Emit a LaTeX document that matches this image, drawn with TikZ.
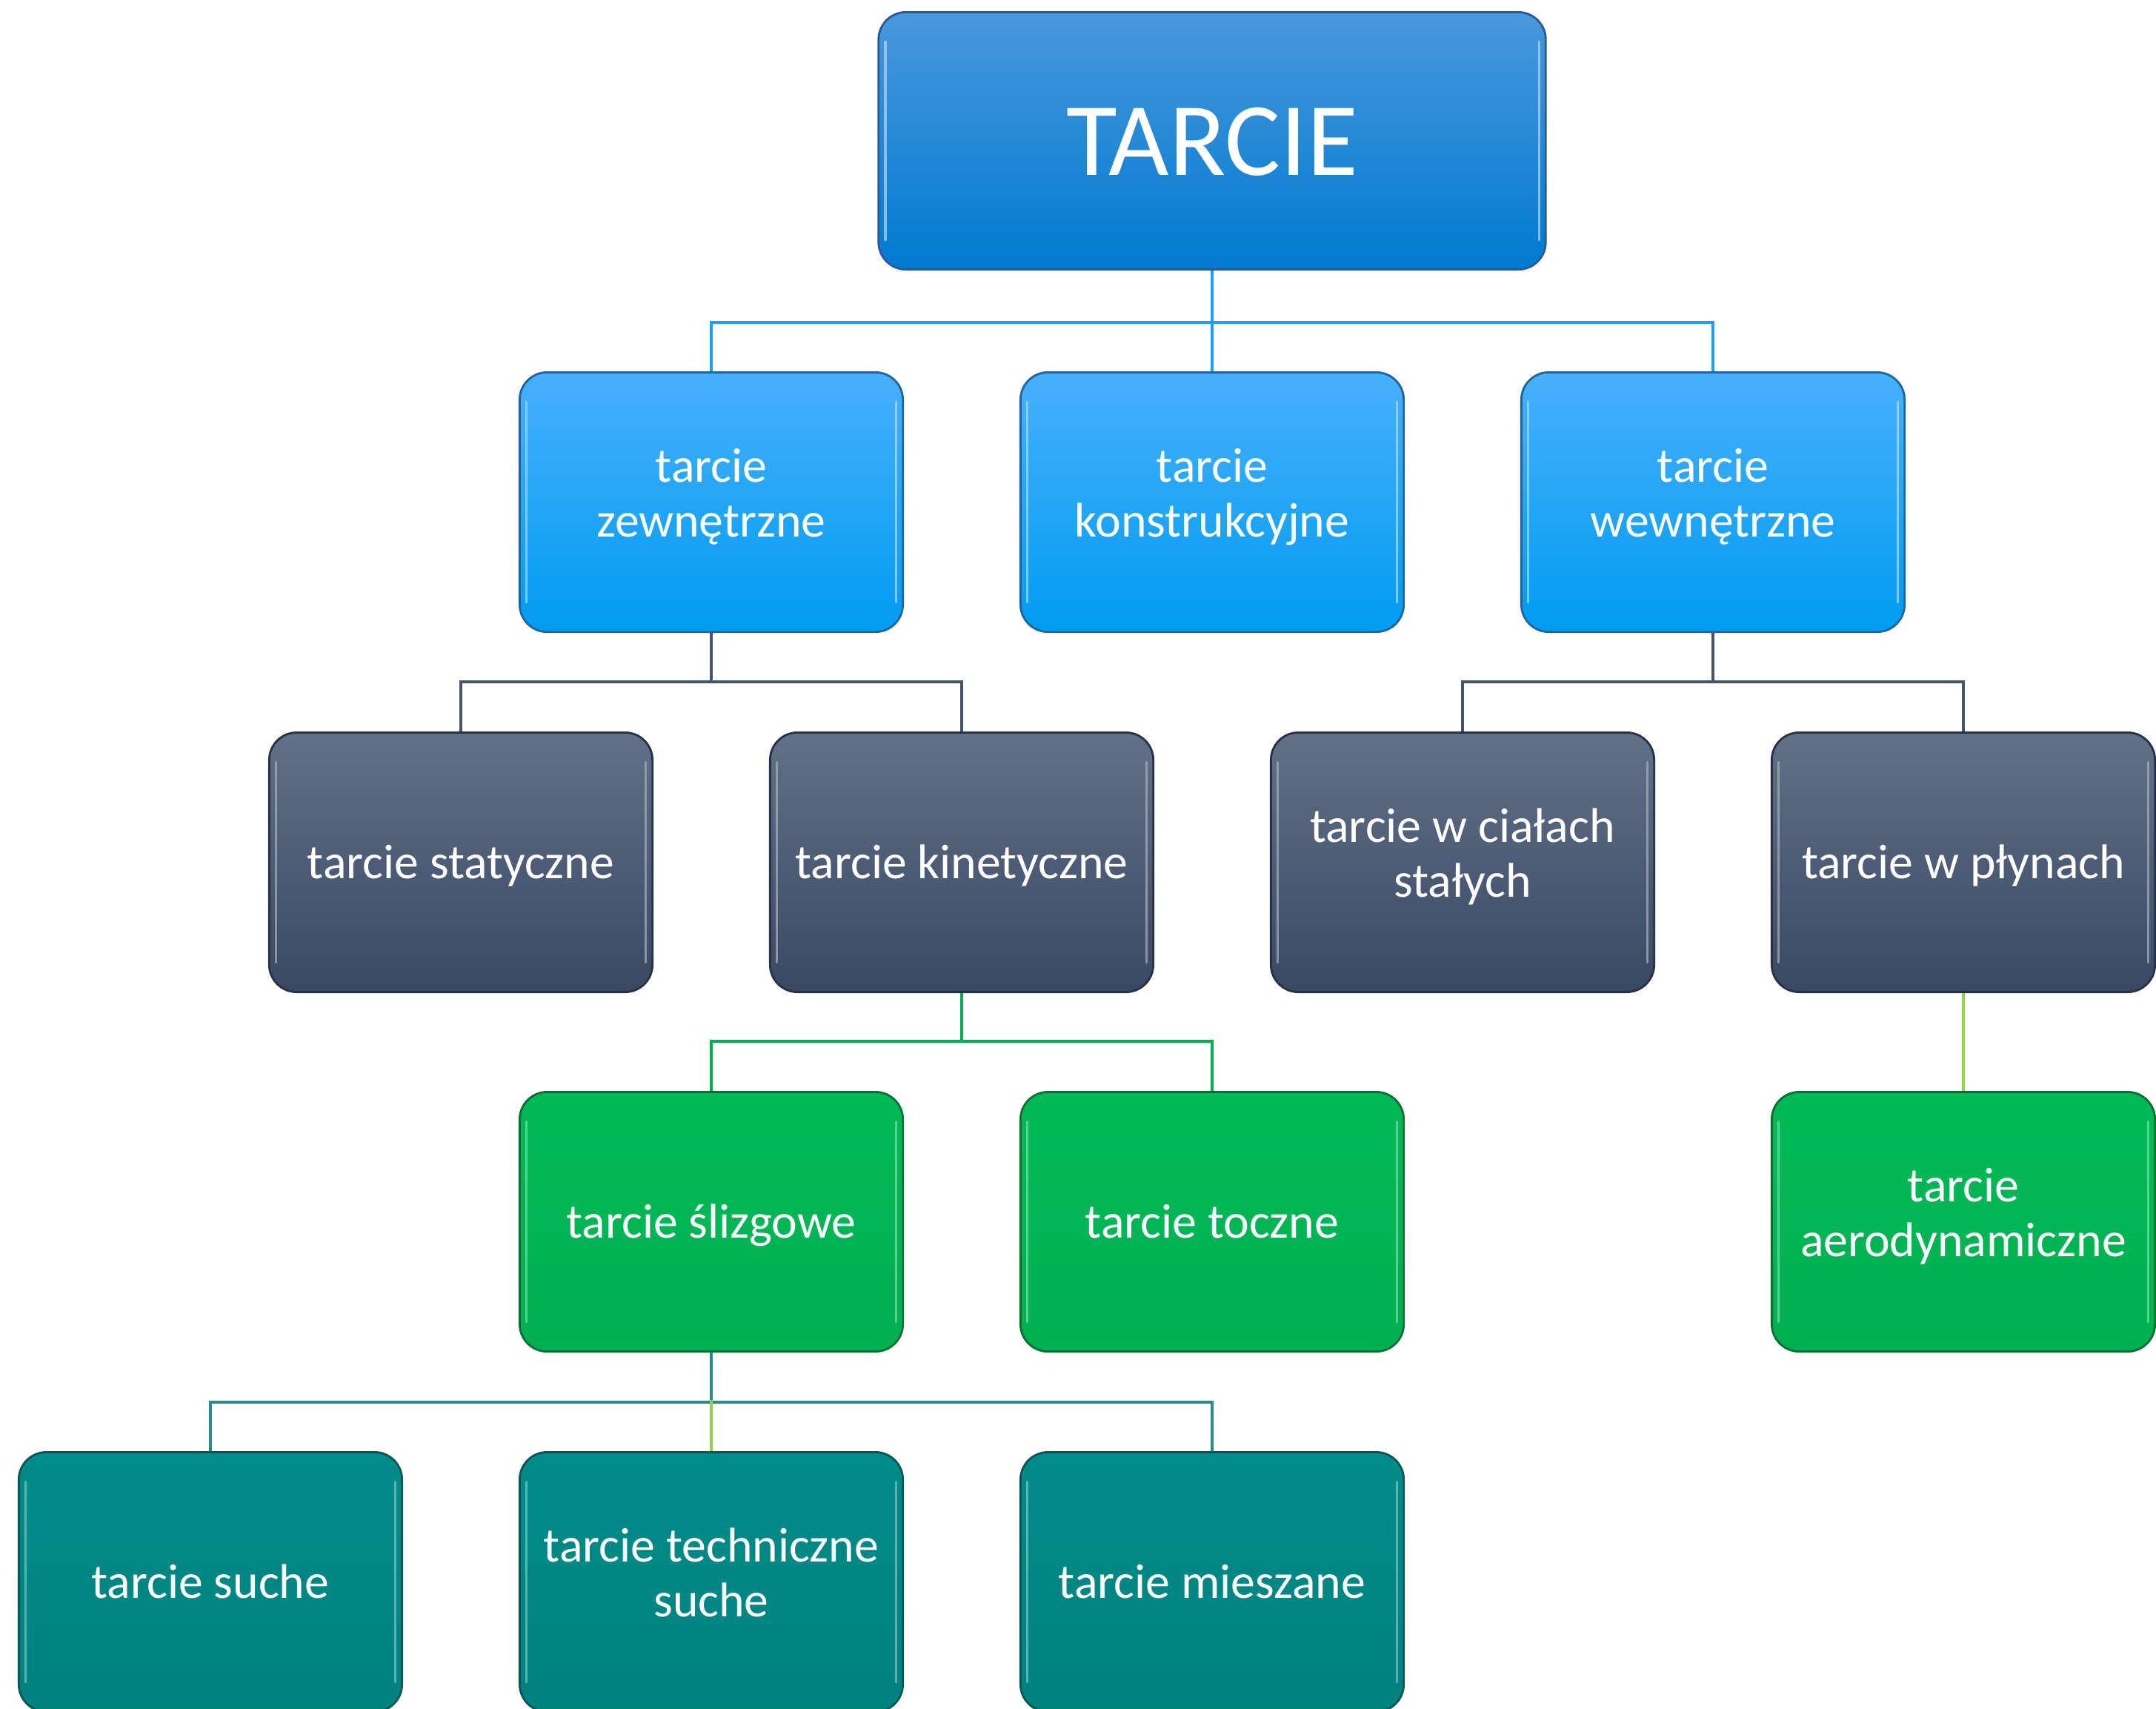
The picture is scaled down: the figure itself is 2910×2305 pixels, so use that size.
\documentclass[tikz,border=0pt]{standalone}
\usepackage{fontspec}
\setmainfont{Carlito}
\newcommand\bxstrut{\rule[-0.39em]{0pt}{1.44em}}
\definecolor{cBlueT}{RGB}{74,152,220}
\definecolor{cBlueB}{RGB}{0,122,208}
\definecolor{cBlueD}{RGB}{40,90,150}
\definecolor{cSkyT}{RGB}{72,176,252}
\definecolor{cSkyB}{RGB}{0,156,240}
\definecolor{cSkyD}{RGB}{30,100,160}
\definecolor{cSlateT}{RGB}{98,113,135}
\definecolor{cSlateB}{RGB}{57,73,99}
\definecolor{cSlateD}{RGB}{40,50,68}
\definecolor{cGreenT}{RGB}{0,186,86}
\definecolor{cGreenB}{RGB}{0,176,80}
\definecolor{cGreenD}{RGB}{10,110,55}
\definecolor{cTealT}{RGB}{0,140,137}
\definecolor{cTealB}{RGB}{0,130,127}
\definecolor{cTealD}{RGB}{10,85,85}
\definecolor{lnBlue}{RGB}{30,160,240}
\definecolor{lnSlate}{RGB}{68,84,106}
\definecolor{lnGreen}{RGB}{0,176,80}
\definecolor{lnLight}{RGB}{146,208,80}
\definecolor{lnTeal}{RGB}{40,140,140}
\begin{document}
\begin{tikzpicture}[x=0.01cm,y=-0.01cm,
  bev/.style={path picture={
    \draw[#1,line width=1pt,line cap=round,opacity=0.7]
      ([xshift=0.09cm,yshift=-0.4cm]path picture bounding box.north west) --
      ([xshift=0.09cm,yshift=0.4cm]path picture bounding box.south west);
    \draw[#1,line width=1pt,line cap=round,opacity=0.7]
      ([xshift=-0.09cm,yshift=-0.4cm]path picture bounding box.north east) --
      ([xshift=-0.09cm,yshift=0.4cm]path picture bounding box.south east);}},
  box/.style={rounded corners=0.37cm, minimum width=5.17cm, minimum height=3.5cm,
    align=center, text=white, inner sep=0pt, line width=0.8pt,
    font=\fontsize{18.7}{21}\selectfont, anchor=north,
    execute at begin node=\bxstrut, execute at end node=\bxstrut},
  lvtop/.style={box, minimum width=9.0cm, minimum height=3.47cm,
    font=\fontsize{40}{44}\selectfont,
    draw=cBlueD, top color=cBlueT, bottom color=cBlueB, bev={white!60!cBlueT}},
  lvsky/.style={box, draw=cSkyD, top color=cSkyT, bottom color=cSkyB, bev={white!55!cSkyT}},
  lvslate/.style={box, draw=cSlateD, top color=cSlateT, bottom color=cSlateB, bev={white!45!cSlateT}},
  lvgreen/.style={box, draw=cGreenD, top color=cGreenT, bottom color=cGreenB, bev={white!50!cGreenT}},
  lvteal/.style={box, draw=cTealD, top color=cTealT, bottom color=cTealB, bev={white!50!cTealT}},
  conn/.style={line width=0.9pt}
]
\useasboundingbox (0,0) rectangle (2910,2305);

% level 1
\node[lvtop] (top) at (1636,15) {TARCIE};
% level 2
\node[lvsky] (zew) at (960,501) {tarcie\\zewnętrzne};
\node[lvsky] (kon) at (1636,501) {tarcie\\konstrukcyjne};
\node[lvsky] (wew) at (2312,501) {tarcie\\wewnętrzne};
% level 3
\node[lvslate] (sta) at (622,987) {tarcie statyczne};
\node[lvslate] (kin) at (1298,987) {tarcie kinetyczne};
\node[lvslate] (cia) at (1974,987) {tarcie w ciałach\\stałych};
\node[lvslate] (ply) at (2650,987) {tarcie w płynach};
% level 4
\node[lvgreen] (sli) at (960,1472) {tarcie ślizgowe};
\node[lvgreen] (toc) at (1636,1472) {tarcie toczne};
\node[lvgreen] (aer) at (2650,1472) {tarcie\\aerodynamiczne};
% level 5
\node[lvteal] (suc) at (284,1958) {tarcie suche};
\node[lvteal] (tec) at (960,1958) {tarcie techniczne\\suche};
\node[lvteal] (mie) at (1636,1958) {tarcie mieszane};

% connectors
\draw[conn,lnBlue] (top.south) -- ++(0,70) -| (zew.north);
\draw[conn,lnBlue] (top.south) -- ++(0,70) -| (wew.north);
\draw[conn,lnBlue] (top.south) -- (kon.north);

\draw[conn,lnSlate] (zew.south) -- ++(0,66) -| (sta.north);
\draw[conn,lnSlate] (zew.south) -- ++(0,66) -| (kin.north);
\draw[conn,lnSlate] (wew.south) -- ++(0,66) -| (cia.north);
\draw[conn,lnSlate] (wew.south) -- ++(0,66) -| (ply.north);

\draw[conn,lnGreen] (kin.south) -- ++(0,65) -| (sli.north);
\draw[conn,lnGreen] (kin.south) -- ++(0,65) -| (toc.north);

\draw[conn,lnLight] (ply.south) -- (aer.north);

\draw[conn,lnTeal] (sli.south) -- ++(0,67) -| (suc.north);
\draw[conn,lnTeal] (sli.south) -- ++(0,67) -| (mie.north);
\draw[conn,lnLight] (tec.north) -- ++(0,-69);
\end{tikzpicture}
\end{document}
